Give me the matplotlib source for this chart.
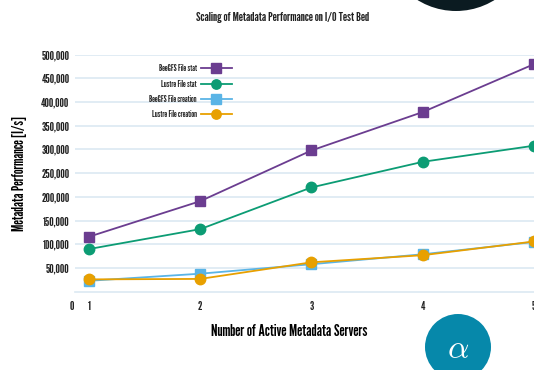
import matplotlib
matplotlib.use("Agg")
import matplotlib.pyplot as plt
from matplotlib import font_manager
from matplotlib.patches import Circle

# Metadata throughput per number of active metadata servers
servers = [1, 2, 3, 4, 5]
beegfs_stat = [116000, 191000, 298000, 379000, 480000]
lustre_stat = [90000, 132000, 220000, 274000, 308000]
beegfs_create = [23000, 38000, 58000, 79000, 105000]
lustre_create = [26000, 27000, 62000, 77000, 106000]

y_ticks = [50000, 100000, 150000, 200000, 250000, 300000, 350000, 400000, 450000, 500000]
y_tick_labels = ["50,000", "100,000", "150,000", "200,000", "250,000",
                 "300,000", "350,000", "400,000", "450,000", "500,000"]

names = {f.name for f in font_manager.fontManager.ttflist}
condensed = [n for n in ["League Gothic", "Pathway Gothic One", "Oswald", "Antonio",
                         "Fjalla One", "Roboto Condensed"] if n in names]
plt.rcParams["font.family"] = condensed[:1] + ["DejaVu Sans"]
plt.rcParams["text.color"] = "#222222"

fig = plt.figure(figsize=(5.34, 3.70), dpi=100)
ax = fig.add_axes([0.1404, 0.2116, 0.8596, 0.6406])

series = [
    ("BeeGFS File stat", beegfs_stat, "#6b3d90", "s"),
    ("Lustre File stat", lustre_stat, "#0c9c74", "o"),
    ("BeeGFS File creation", beegfs_create, "#5ab4e6", "s"),
    ("Lustre File creation", lustre_create, "#e8a000", "o"),
]
for label, vals, color, marker in series:
    ax.plot(servers, vals, color=color, linewidth=1.3, marker=marker,
            markersize=7.5, label=label, clip_on=False, zorder=3)

ax.set_xlim(0.874, 5.0)
ax.set_ylim(0, 500000)
ax.set_xticks(servers)
ax.set_xticklabels([str(s) for s in servers])
ax.set_yticks(y_ticks)
ax.set_yticklabels(y_tick_labels)
ax.tick_params(length=0, labelsize=9, colors="#222222")
ax.tick_params(axis="x", pad=7)
ax.tick_params(axis="y", pad=4)

ax.grid(axis="y", color="#dce9f2", linewidth=1.2)
ax.set_axisbelow(True)
for side in ["top", "right", "left"]:
    ax.spines[side].set_visible(False)
ax.spines["bottom"].set_color("#dce9f2")
ax.spines["bottom"].set_linewidth(1.2)

# zero label sits on the x tick row
ax.annotate("0", xy=(0, 0), xycoords="axes fraction", xytext=(-2, -11),
            textcoords="offset points", ha="center", va="center", fontsize=9)

ax.set_xlabel("Number of Active Metadata Servers", fontsize=12, labelpad=8)
ax.xaxis.set_label_coords(0.466, -0.138)
ax.set_ylabel("Metadata Performance [I/s]", fontsize=11, labelpad=10)
fig.text(0.53, 0.953, "Scaling of Metadata Performance on I/O Test Bed",
         ha="center", va="center", fontsize=9.5)

ax.legend(loc="upper right", bbox_to_anchor=(0.435, 0.826), bbox_transform=fig.transFigure,
          frameon=False, markerfirst=False, fontsize=6.5, handlelength=3.5,
          labelspacing=0.7, handletextpad=0.45, borderpad=0, borderaxespad=0,
          markerscale=0.9)

# corner badges
fig.patches.append(Circle((456, 370 + 62), 73, transform=None, facecolor="#0b1b21",
                          edgecolor="none", zorder=0))
badge = Circle((458, 23), 33, transform=None, facecolor="#0688aa",
               edgecolor="none", zorder=0)
fig.patches.append(badge)
fig.text(458 / 534, 21 / 370, r"$\alpha$", ha="center", va="center",
         color="white", fontsize=24, math_fontfamily="cm")

fig.savefig("out.png", dpi=100)
